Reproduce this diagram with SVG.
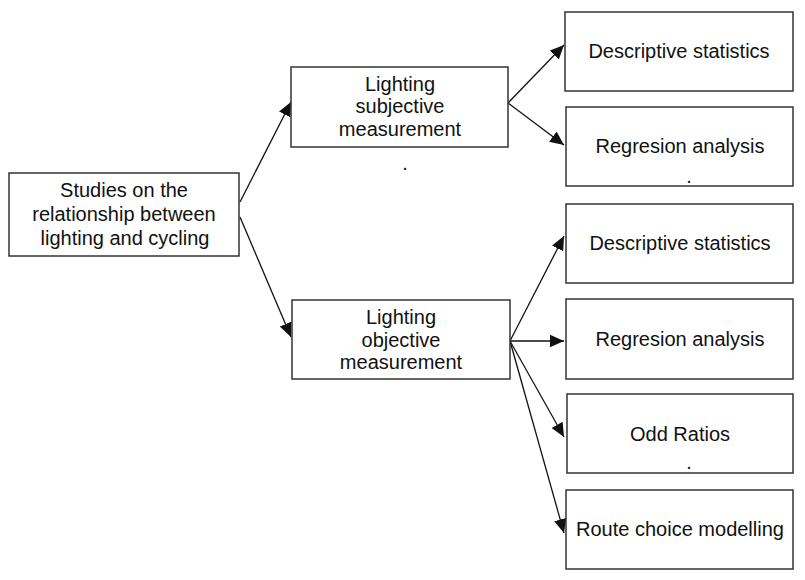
<svg xmlns="http://www.w3.org/2000/svg" width="805" height="580" viewBox="0 0 805 580">
<style>
.box{fill:#fff;stroke:#333;stroke-width:1.5}
.t{font-family:"Liberation Sans",Arial,sans-serif;font-size:20px;fill:#111;text-anchor:middle}
.c{stroke:#111;stroke-width:1.3;fill:none;marker-end:url(#ah)}
</style>
<defs>
<marker id="ah" viewBox="0 0 10 10" refX="10" refY="5" markerWidth="14" markerHeight="14" markerUnits="userSpaceOnUse" orient="auto">
<path d="M0,0.5 L10,5 L0,9.5 z" fill="#111"/>
</marker>
</defs>
<rect width="805" height="580" fill="#fff"/>
<g id="connectors">
<line class="c" x1="240" y1="202" x2="291" y2="102"/>
<line class="c" x1="240" y1="217" x2="291" y2="337"/>
<line class="c" x1="508" y1="103" x2="564" y2="45"/>
<line class="c" x1="508" y1="103" x2="564" y2="145"/>
<line class="c" x1="510" y1="341" x2="564" y2="236"/>
<line class="c" x1="510" y1="341" x2="564" y2="341"/>
<line class="c" x1="510" y1="341" x2="564" y2="437"/>
<line class="c" x1="510" y1="341" x2="564" y2="533"/>
</g>
<g id="root">
<rect class="box" x="9" y="173" width="230" height="83"/>
<text class="t" x="124" y="197">Studies on the</text>
<text class="t" x="124" y="221">relationship between</text>
<text class="t" x="125" y="245">lighting and cycling</text>
</g>
<g id="subjective">
<rect class="box" x="291" y="67" width="217" height="80"/>
<text class="t" x="400" y="91">Lighting</text>
<text class="t" x="400" y="113">subjective</text>
<text class="t" x="400" y="136">measurement</text>
<text class="t" x="405" y="170">.</text>
</g>
<g id="objective">
<rect class="box" x="292" y="300" width="218" height="79"/>
<text class="t" x="401" y="324">Lighting</text>
<text class="t" x="401" y="347">objective</text>
<text class="t" x="401" y="369">measurement</text>
</g>
<g id="desc1">
<rect class="box" x="565" y="12" width="228" height="79"/>
<text class="t" x="679" y="58">Descriptive statistics</text>
</g>
<g id="reg1">
<rect class="box" x="566" y="107" width="227" height="79"/>
<text class="t" x="680" y="153">Regresion analysis</text>
<text class="t" x="689" y="183">.</text>
</g>
<g id="desc2">
<rect class="box" x="566" y="204" width="227" height="79"/>
<text class="t" x="680" y="250">Descriptive statistics</text>
</g>
<g id="reg2">
<rect class="box" x="566" y="299" width="227" height="80"/>
<text class="t" x="680" y="346">Regresion analysis</text>
</g>
<g id="odd">
<rect class="box" x="567" y="394" width="226" height="79"/>
<text class="t" x="680" y="441">Odd Ratios</text>
<text class="t" x="689" y="469">.</text>
</g>
<g id="route">
<rect class="box" x="566" y="490" width="227" height="79"/>
<text class="t" x="680" y="536">Route choice modelling</text>
</g>
</svg>
